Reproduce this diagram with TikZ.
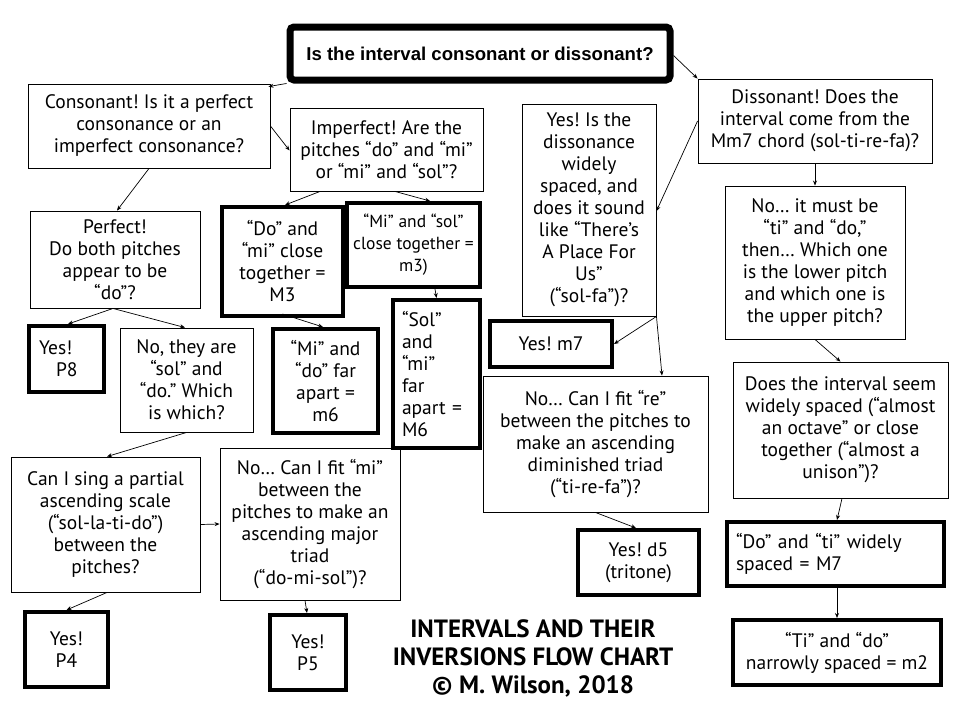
\documentclass[tikz,border=0pt]{standalone}
\usepackage{fontspec}
\setmainfont{PT Sans}
\newfontfamily\arialfont{Liberation Sans}
\usetikzlibrary{arrows.meta}
\tikzset{
  box/.style={draw, line width=0.9pt, align=center, inner sep=0pt,
    font=\fontsize{19.5}{22}\selectfont\frenchspacing},
  thickbox/.style={box, line width=4pt},
  topbox/.style={draw, line width=7pt, rounded corners=4pt, inner sep=0pt,
    font=\arialfont\bfseries\fontsize{18.6}{22}\selectfont},
  arr/.style={-{Stealth[length=5pt,width=4pt]}, line width=0.7pt},
  heading/.style={align=center, font=\bfseries\fontsize{25}{28}\selectfont}
}
\begin{document}
\begin{tikzpicture}[x=1pt,y=-1pt]
\useasboundingbox[fill=white] (0,0) rectangle (960,720);

\node[topbox, minimum width=380, minimum height=53] (title) at (480,53.5)
  {Is the interval consonant or dissonant?};

\node[box, minimum width=242, minimum height=84] (cons) at (149,126)
  {Consonant! Is it a perfect\\consonance or an\\imperfect consonance?};
\node[box, minimum width=193, minimum height=83] (imp) at (386.5,149.5)
  {Imperfect! Are the\\pitches “do” and “mi”\\or “mi” and “sol”?};
\node[box, minimum width=134, minimum height=212] (yd) at (589,210)
  {Yes! Is the\\dissonance\\widely\\spaced, and\\does it sound\\like “There’s\\A Place For\\Us”\\(“sol-fa”)?};
\node[box, minimum width=234, minimum height=84] (dis) at (815,121)
  {Dissonant! Does the\\interval come from the\\Mm7 chord (sol-ti-re-fa)?};
\node[box, minimum width=170, minimum height=97] (perf) at (115,259.5)
  {Perfect!\\Do both pitches\\appear to be\\“do”?};
\node[thickbox, minimum width=121, minimum height=109] (domi) at (282.5,261.5)
  {“Do” and\\“mi” close\\together =\\M3};
\node[thickbox, minimum width=133, minimum height=84, font=\fontsize{17.5}{22}\selectfont\frenchspacing] (misol) at (413.5,245)
  {“Mi” and “sol”\\close together =\\m3)};
\node[box, minimum width=180, minimum height=153] (must) at (815,262.5)
  {No… it must be\\“ti” and “do,”\\then… Which one\\is the lower pitch\\and which one is\\the upper pitch?};
\node[thickbox, minimum width=75, minimum height=66, text width=55, align=left] (p8) at (66.5,359)
  {Yes!\\\hspace*{17pt}P8};
\node[box, minimum width=133, minimum height=104] (notsol) at (186.5,380)
  {No, they are\\“sol” and\\“do.” Which\\is which?};
\node[thickbox, minimum width=105, minimum height=104] (mido) at (325.5,381)
  {“Mi” and\\“do” far\\apart =\\m6};
\node[thickbox, minimum width=87, minimum height=148, text width=69, align=left] (solmi) at (436.5,374)
  {“Sol”\\and\\“mi”\\far\\apart =\\M6};
\node[thickbox, minimum width=122, minimum height=46] (m7) at (551,344)
  {Yes! m7};
\node[box, minimum width=225, minimum height=136] (re) at (595.5,444)
  {No… Can I fit “re”\\between the pitches to\\make an ascending\\diminished triad\\(“ti-re-fa”)?};
\node[box, minimum width=215, minimum height=136] (seem) at (840.5,430)
  {Does the interval seem\\widely spaced (“almost\\an octave” or close\\together (“almost a\\unison”)?};
\node[box, minimum width=189, minimum height=135] (sing) at (105.5,524.5)
  {Can I sing a partial\\ascending scale\\(“sol-la-ti-do”)\\between the\\pitches?};
\node[box, minimum width=180, minimum height=152] (fitmi) at (310,524)
  {No… Can I fit “mi”\\between the\\pitches to make an\\ascending major\\triad\\(“do-mi-sol”)?};
\node[thickbox, minimum width=121, minimum height=65] (d5) at (638.5,562.5)
  {Yes! d5\\(tritone)};
\node[thickbox, minimum width=217, minimum height=64, text width=199, align=left] (doti) at (835.5,554)
  {“Do” and “ti” widely\\spaced = M7};
\node[thickbox, minimum width=83, minimum height=75] (p4) at (66.5,649.5)
  {Yes!\\P4};
\node[thickbox, minimum width=76, minimum height=75] (p5) at (308,652.5)
  {Yes!\\P5};
\node[thickbox, minimum width=208, minimum height=65] (tido) at (837,652.5)
  {“Ti” and “do”\\narrowly spaced = m2};

\node[heading] (head) at (533,658)
  {INTERVALS AND THEIR\\INVERSIONS FLOW CHART\\© M. Wilson, 2018};

% connectors
\draw[arr] (title.south west) -- ([xshift=-2pt,yshift=-3pt]cons.north east);
\draw[arr] ([yshift=-2pt]title.east) -- (dis.north west);
\draw[arr] (cons.east) -- ([yshift=-1pt]imp.west);
\draw[arr] (cons.south) -- ([xshift=2pt]perf.north);
\draw[arr] ([xshift=-66.5pt]imp.south) -- ([xshift=2.5pt]domi.north);
\draw[arr] ([xshift=8.5pt]imp.south) -- ([xshift=16.5pt]misol.north);
\draw[arr] ([xshift=-2pt]perf.south) -- ([xshift=1.5pt]p8.north);
\draw[arr] ([xshift=-2pt]perf.south) -- ([xshift=-1.5pt]notsol.north);
\draw[arr] ([yshift=4pt]domi.south) -- ([xshift=-2.5pt]mido.north);
\draw[arr] ([xshift=21.5pt]misol.south) -- (solmi.north);
\draw[arr] (notsol.south) -- ([xshift=1.5pt]sing.north);
\draw[arr] (dis.west) -- ([yshift=-1pt]yd.east);
\draw[arr] (dis.south) -- (must.north);
\draw[arr] (yd.south east) -- (m7.east);
\draw[arr] (yd.south east) -- ([xshift=66.5pt]re.north);
\draw[arr] (must.south) -- (seem.north);
\draw[arr] (sing.east) -- (fitmi.west);
\draw[arr] ([xshift=1.5pt]sing.south) -- (p4.north);
\draw[arr] ([xshift=-5pt]fitmi.south) -- ([xshift=-1pt]p5.north);
\draw[arr] (re.south) -- ([xshift=-2.5pt]d5.north);
\draw[arr] ([xshift=1.5pt]seem.south) -- ([xshift=1.5pt]doti.north);
\draw[arr] ([xshift=1.5pt]doti.south) -- (tido.north);
\end{tikzpicture}
\end{document}
